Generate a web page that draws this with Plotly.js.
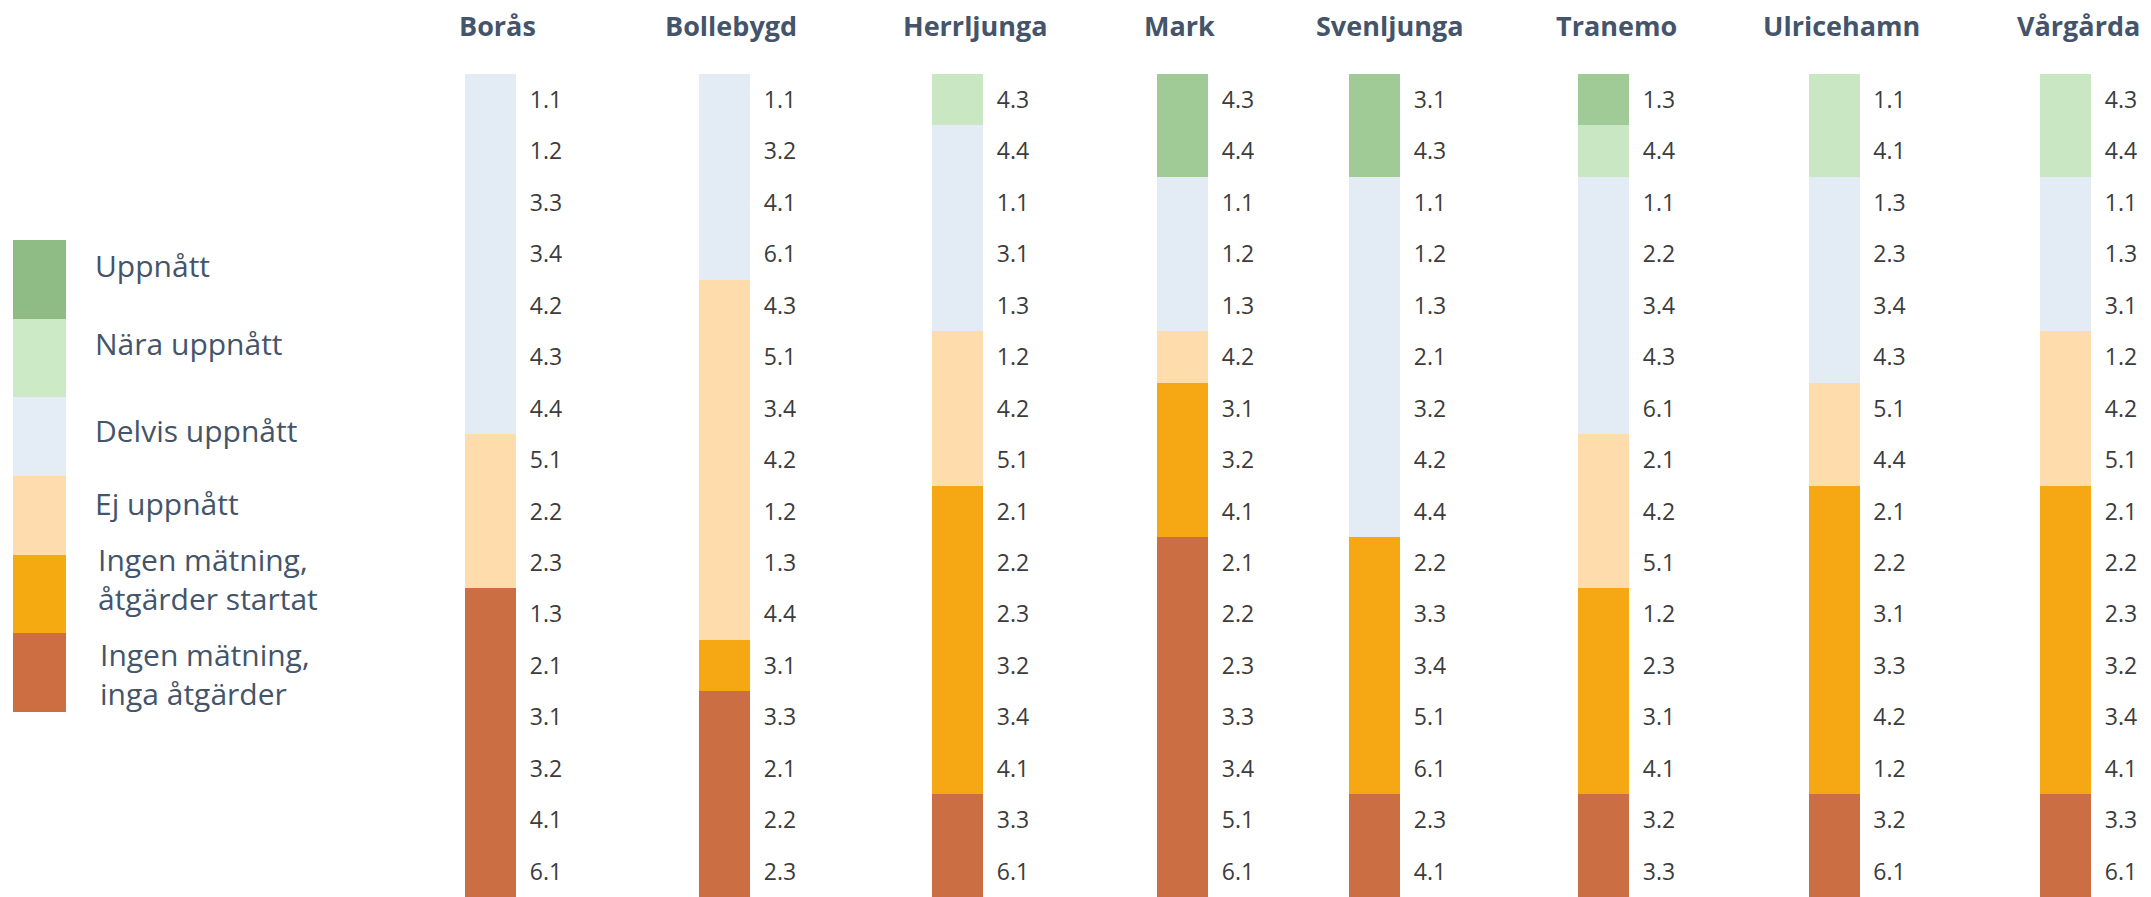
<!DOCTYPE html>
<html>
<head>
<meta charset="utf-8">
<script src="https://cdn.plot.ly/plotly-3.0.1.min.js"></script>
<style>
  html, body { margin: 0; padding: 0; background: #ffffff; }
  #chart { width: 2151px; height: 897px; }
</style>
</head>
<body>
<div id="chart"></div>
<script>
// ---------------- DATA ----------------
const municipalities = ['Borås', 'Bollebygd', 'Herrljunga', 'Mark', 'Svenljunga', 'Tranemo', 'Ulricehamn', 'Vårgårda'];
const categories = ['Uppnått', 'Nära uppnått', 'Delvis uppnått', 'Ej uppnått', 'Ingen mätning,<br>åtgärder startat', 'Ingen mätning,<br>inga åtgärder'];

// number of indicators per status (top to bottom), per municipality
const uppnatt      = [0, 0, 0, 2, 2, 1, 0, 0];
const naraUppnatt  = [0, 0, 1, 0, 0, 1, 2, 2];
const delvis       = [7, 4, 4, 3, 7, 5, 4, 3];
const ejUppnatt    = [3, 7, 3, 1, 0, 3, 2, 3];
const startat      = [0, 1, 6, 3, 5, 4, 6, 6];
const ingaAtgarder = [6, 4, 2, 7, 2, 2, 2, 2];

// indicator codes listed top to bottom in each column
const borasLabels      = ['1.1','1.2','3.3','3.4','4.2','4.3','4.4','5.1','2.2','2.3','1.3','2.1','3.1','3.2','4.1','6.1'];
const bollebygdLabels  = ['1.1','3.2','4.1','6.1','4.3','5.1','3.4','4.2','1.2','1.3','4.4','3.1','3.3','2.1','2.2','2.3'];
const herrljungaLabels = ['4.3','4.4','1.1','3.1','1.3','1.2','4.2','5.1','2.1','2.2','2.3','3.2','3.4','4.1','3.3','6.1'];
const markLabels       = ['4.3','4.4','1.1','1.2','1.3','4.2','3.1','3.2','4.1','2.1','2.2','2.3','3.3','3.4','5.1','6.1'];
const svenljungaLabels = ['3.1','4.3','1.1','1.2','1.3','2.1','3.2','4.2','4.4','2.2','3.3','3.4','5.1','6.1','2.3','4.1'];
const tranemoLabels    = ['1.3','4.4','1.1','2.2','3.4','4.3','6.1','2.1','4.2','5.1','1.2','2.3','3.1','4.1','3.2','3.3'];
const ulricehamnLabels = ['1.1','4.1','1.3','2.3','3.4','4.3','5.1','4.4','2.1','2.2','3.1','3.3','4.2','1.2','3.2','6.1'];
const vargardaLabels   = ['4.3','4.4','1.1','1.3','3.1','1.2','4.2','5.1','2.1','2.2','2.3','3.2','3.4','4.1','3.3','6.1'];

// ---------------- STYLE / LAYOUT ----------------
const W = 2151, H = 897;
const seriesValues = [uppnatt, naraUppnatt, delvis, ejUppnatt, startat, ingaAtgarder];
const columnLabels = [borasLabels, bollebygdLabels, herrljungaLabels, markLabels, svenljungaLabels, tranemoLabels, ulricehamnLabels, vargardaLabels];
const barColors    = ['#a0cb97', '#c9e7c2', '#e3ebf4', '#fedcab', '#f5a814', '#cc6e43'];
const legendColors = ['#8fbc84', '#cdeac7', '#e4ecf5', '#fedcad', '#f5aa12', '#cc6e42'];
const TEXT_COL = '#44546a';
const FONT = '"Open Sans", "Segoe UI", sans-serif';

const BAR_PX = 51;               // bar width in px
const DOM_PX = 110;              // width of each column's subplot
const barCentersPx   = [490.5, 724.5, 957.5, 1182.5, 1374.5, 1603.5, 1834, 2065.5];
const titleCentersPx = [497, 731, 975, 1179, 1389, 1616, 1841, 2078];
const plotTopPx = 74;
const labelGapPx = 14, labelHalfWidthPx = 16;

const nRows = borasLabels.length;
const traces = [];
const layout = {
  width: W, height: H,
  margin: {l: 0, r: 0, t: 0, b: 0, pad: 0},
  paper_bgcolor: '#ffffff', plot_bgcolor: 'rgba(0,0,0,0)',
  showlegend: false, hovermode: false,
  barmode: 'stack', bargap: 0,
  yaxis: {domain: [0, 1 - plotTopPx / H], range: [nRows, 0], visible: false, fixedrange: true},
  annotations: [], shapes: []
};

const xRangeMax = DOM_PX / BAR_PX - 0.5;
const labelX = 0.5 + (labelGapPx + labelHalfWidthPx) / BAR_PX;

municipalities.forEach((m, k) => {
  const axName = k === 0 ? 'x' : 'x' + (k + 1);
  const axKey = k === 0 ? 'xaxis' : 'xaxis' + (k + 1);
  const start = (barCentersPx[k] - BAR_PX / 2) / W;
  layout[axKey] = {
    domain: [start, Math.min(1, start + DOM_PX / W)],
    range: [-0.5, xRangeMax], visible: false, anchor: 'y', fixedrange: true
  };
  categories.forEach((c, ci) => {
    traces.push({
      type: 'bar', x: [0], y: [seriesValues[ci][k]], width: [1],
      xaxis: axName, yaxis: 'y', name: c,
      marker: {color: barColors[ci], line: {width: 0}},
      hoverinfo: 'skip'
    });
  });
  const labels = columnLabels[k];
  traces.push({
    type: 'scatter', mode: 'text', xaxis: axName, yaxis: 'y',
    x: labels.map(() => labelX),
    y: labels.map((_, i) => i + 0.55),
    text: labels, textposition: 'middle center', cliponaxis: false,
    textfont: {family: FONT, size: 23, color: '#3c3c3c'},
    hoverinfo: 'skip'
  });
  layout.annotations.push({
    xref: 'paper', yref: 'paper', x: titleCentersPx[k] / W, y: 1 - 25 / H,
    xanchor: 'center', yanchor: 'middle', showarrow: false,
    text: '<b>' + m + '</b>',
    font: {family: FONT, size: 27, color: TEXT_COL}
  });
});

// legend drawn as its own small stacked column
const legTop = 240, legBottom = 712, legLeft = 13, legRight = 66;
layout.xaxis9 = {domain: [legLeft / W, legRight / W], range: [-0.5, 0.5], visible: false, anchor: 'y2', fixedrange: true};
layout.yaxis2 = {domain: [1 - legBottom / H, 1 - legTop / H], range: [categories.length, 0], visible: false, anchor: 'x9', fixedrange: true};
categories.forEach((c, ci) => {
  traces.push({
    type: 'bar', x: [0], y: [1], width: [1], xaxis: 'x9', yaxis: 'y2', name: c,
    marker: {color: legendColors[ci], line: {width: 0}}, hoverinfo: 'skip'
  });
});
const legTextY = [266, 343, 430, 503, 579, 674];
const legTextX = [93, 93, 93, 93, 96, 98];
categories.forEach((c, ci) => {
  layout.annotations.push({
    xref: 'paper', yref: 'paper', x: legTextX[ci] / W, y: 1 - legTextY[ci] / H,
    xanchor: 'left', yanchor: 'middle', align: 'left', showarrow: false,
    text: c, font: {family: FONT, size: 30, color: TEXT_COL}
  });
});

Plotly.newPlot('chart', traces, layout, {staticPlot: true, displayModeBar: false});
</script>
</body>
</html>
